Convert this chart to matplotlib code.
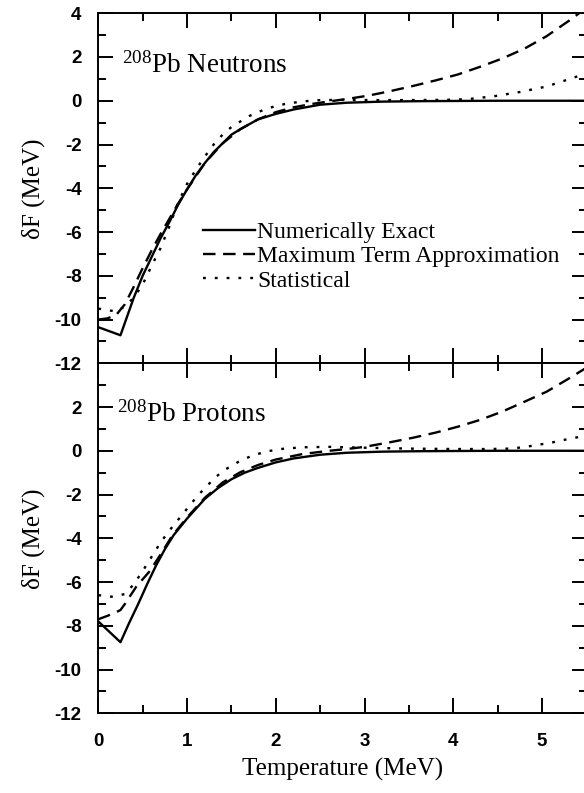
import matplotlib
matplotlib.use('Agg')
import matplotlib.pyplot as plt
from matplotlib.ticker import MultipleLocator

plt.rcParams['font.family'] = ['Liberation Serif', 'DejaVu Serif']
plt.rcParams['mathtext.fontset'] = 'custom'
plt.rcParams['mathtext.rm'] = 'Liberation Serif'
plt.rcParams['mathtext.it'] = 'Liberation Serif:italic'
plt.rcParams['axes.unicode_minus'] = False

# --- 208Pb neutrons ---
n_exact_T = [0, 0.25, 0.4, 0.5, 0.6, 0.7, 0.8, 0.9, 1.0, 1.1, 1.2, 1.3, 1.4, 1.5,
             1.6, 1.8, 2.0, 2.2, 2.5, 2.8, 3.2, 3.6, 4.0, 4.5, 5.0, 5.5]
n_exact_F = [-10.35, -10.72, -9.0, -8.0, -7.15, -6.3, -5.55, -4.75, -4.05, -3.4,
             -2.85, -2.35, -1.95, -1.55, -1.3, -0.85, -0.6, -0.4, -0.18, -0.09,
             -0.04, -0.02, -0.01, 0.0, 0.0, 0.0]

n_maxterm_T = [0, 0.1, 0.2, 0.3, 0.4, 0.5, 0.6, 0.7, 0.8, 0.9, 1.0, 1.2, 1.4, 1.6,
               1.8, 2.0, 2.2, 2.4, 2.6, 2.8, 3.05, 3.3, 3.55, 3.8, 4.05, 4.3,
               4.55, 4.8, 5.05, 5.3, 5.5]
n_maxterm_F = [-10.0, -9.95, -9.8, -9.3, -8.5, -7.65, -6.85, -6.1, -5.4, -4.7,
               -4.05, -2.85, -1.95, -1.3, -0.85, -0.52, -0.3, -0.15, -0.03, 0.08,
               0.24, 0.45, 0.68, 0.93, 1.2, 1.55, 1.93, 2.38, 2.95, 3.65, 4.25]

n_stat_T = [0, 0.1, 0.2, 0.3, 0.4, 0.5, 0.6, 0.7, 0.8, 0.9, 1.0, 1.1, 1.2, 1.3,
            1.4, 1.5, 1.7, 1.9, 2.1, 2.3, 2.5, 2.8, 3.1, 3.5, 3.9, 4.15, 4.45,
            4.75, 5.05, 5.35, 5.5]
n_stat_F = [-9.5, -9.57, -9.63, -9.4, -9.0, -8.4, -7.55, -6.75, -5.75, -4.65,
            -3.8, -3.15, -2.55, -2.0, -1.55, -1.2, -0.7, -0.35, -0.15, -0.03,
            0.03, 0.04, 0.03, 0.03, 0.04, 0.07, 0.2, 0.4, 0.65, 1.05, 1.25]

# --- 208Pb protons ---
p_exact_T = [0, 0.25, 0.35, 0.45, 0.55, 0.65, 0.75, 0.85, 1.0, 1.1, 1.2, 1.35,
             1.5, 1.65, 1.8, 2.0, 2.2, 2.5, 2.8, 3.2, 3.6, 4.0, 4.5, 5.0, 5.5]
p_exact_F = [-7.8, -8.75, -7.85, -7.0, -6.1, -5.25, -4.5, -3.85, -3.1, -2.65,
             -2.2, -1.7, -1.3, -1.0, -0.78, -0.53, -0.35, -0.18, -0.09, -0.04,
             -0.02, -0.01, 0.0, 0.0, 0.0]

p_maxterm_T = [0, 0.1, 0.2, 0.25, 0.3, 0.43, 0.58, 0.7, 0.83, 1.0, 1.2, 1.4, 1.6,
               1.8, 2.0, 2.3, 2.6, 2.8, 3.0, 3.3, 3.55, 3.8, 4.05, 4.3, 4.55,
               4.8, 5.05, 5.3, 5.5]
p_maxterm_F = [-7.7, -7.55, -7.38, -7.28, -7.0, -6.2, -5.5, -4.75, -3.9, -3.05,
               -2.15, -1.45, -0.98, -0.65, -0.4, -0.15, 0.0, 0.08, 0.18, 0.4,
               0.6, 0.83, 1.1, 1.41, 1.79, 2.24, 2.7, 3.3, 3.8]

p_stat_T = [0, 0.15, 0.3, 0.4, 0.5, 0.6, 0.7, 0.8, 0.9, 1.0, 1.1, 1.2, 1.3, 1.4,
            1.5, 1.6, 1.75, 1.9, 2.05, 2.3, 2.6, 3.0, 3.5, 4.0, 4.4, 4.65, 4.8,
            4.95, 5.1, 5.25, 5.4, 5.5]
p_stat_F = [-6.6, -6.67, -6.55, -6.1, -5.5, -4.85, -4.2, -3.65, -3.15, -2.65,
            -2.15, -1.7, -1.3, -0.92, -0.7, -0.45, -0.2, -0.03, 0.08, 0.16, 0.18,
            0.14, 0.1, 0.08, 0.08, 0.1, 0.17, 0.27, 0.37, 0.5, 0.62, 0.72]

series_labels = ['Numerically Exact', 'Maximum Term Approximation', 'Statistical']
panel_names = [r'$^{208}$Pb Neutrons', r'$^{208}$Pb Protons']
y_ticks = [-12, -10, -8, -6, -4, -2, 0, 2, 4]

LW = 1.7
DASH = (5.3, 3.2)
DOT = (1.2, 3.8)


def style_axes(ax, bottom_panel):
    ax.set_xlim(0, 5.5)
    ax.set_ylim(-12, 4)
    ax.set_yticks(y_ticks)
    labels = [str(v) for v in y_ticks]
    if bottom_panel:
        labels[-1] = ''
    ax.set_yticklabels(labels)
    ax.xaxis.set_major_locator(MultipleLocator(1))
    ax.xaxis.set_minor_locator(MultipleLocator(0.5))
    ax.yaxis.set_minor_locator(MultipleLocator(1))
    ax.tick_params(which='both', direction='in', top=True, right=True,
                   width=1.4, labelsize=13.5, labelfontfamily='Liberation Sans')
    ax.tick_params(which='major', length=11)
    ax.tick_params(which='minor', length=6)
    ax.tick_params(axis='y', pad=12)
    ax.tick_params(axis='x', pad=14, labelbottom=bottom_panel)
    for lab in ax.get_xticklabels() + ax.get_yticklabels():
        lab.set_fontweight('bold')
    for s in ax.spines.values():
        s.set_linewidth(1.4)
    ax.set_ylabel('δF (MeV)', fontsize=18, labelpad=7)


fig = plt.figure(figsize=(5.84, 7.93), dpi=100)
ax_n = fig.add_axes([0.1683, 0.5419, 0.836, 0.4414])
ax_p = fig.add_axes([0.1683, 0.1005, 0.836, 0.4414])

for ax, data, name, tx, ty in [
        (ax_n, (n_exact_T, n_exact_F, n_maxterm_T, n_maxterm_F, n_stat_T, n_stat_F),
         panel_names[0], 0.048, 0.829),
        (ax_p, (p_exact_T, p_exact_F, p_maxterm_T, p_maxterm_F, p_stat_T, p_stat_F),
         panel_names[1], 0.038, 0.833)]:
    eT, eF, mT, mF, sT, sF = data
    ax.plot(eT, eF, color='black', lw=LW, label=series_labels[0])
    ax.plot(mT, mF, color='black', lw=LW, dashes=DASH, label=series_labels[1])
    ax.plot(sT, sF, color='black', lw=LW, dashes=DOT, label=series_labels[2])
    ax.text(tx, ty, name, transform=ax.transAxes, fontsize=19.5, va='baseline')
    style_axes(ax, ax is ax_p)

ax_n.legend(loc='upper left', bbox_to_anchor=(0.2145, 0.405), frameon=False,
            fontsize=17, borderpad=0, borderaxespad=0, handlelength=2.2,
            handletextpad=0.1, labelspacing=0.12)

ax_p.set_xlabel('Temperature (MeV)', fontsize=18, labelpad=6)

fig.savefig('out.png', dpi=100)
